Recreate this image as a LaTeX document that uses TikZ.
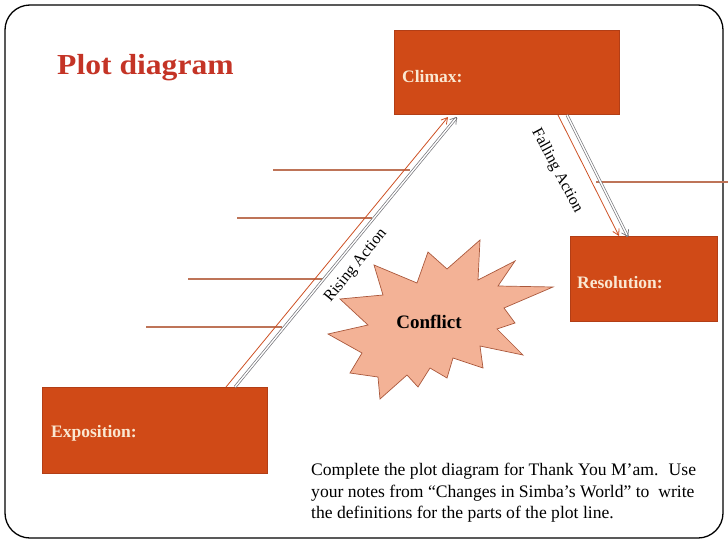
\documentclass[tikz,border=0pt]{standalone}
\usepackage{fontspec}
\setmainfont{Liberation Serif}
\usetikzlibrary{arrows.meta}
\definecolor{boxred}{RGB}{208,74,23}
\definecolor{boxedge}{RGB}{178,62,22}
\definecolor{cream}{RGB}{250,232,210}
\definecolor{titlered}{RGB}{196,52,38}
\definecolor{starfill}{RGB}{243,178,150}
\definecolor{staredge}{RGB}{170,88,60}
\definecolor{hline}{RGB}{190,116,88}
\definecolor{orangeline}{RGB}{205,80,35}
\definecolor{grayline}{RGB}{115,115,120}
\tikzset{
  plotbox/.style={draw=boxedge, fill=boxred, line width=0.6pt, anchor=north west, inner sep=0pt},
  boxlabel/.style={text=cream, font=\fontsize{17.5}{20}\selectfont\bfseries, anchor=west, inner sep=0pt},
  orangearrow/.style={draw=orangeline, line width=0.8pt, -{Straight Barb[length=6pt,width=7pt]}},
  grayarrow/.style={draw=grayline, double=white, double distance=1.4pt, line width=0.7pt, -{Straight Barb[length=6pt,width=8pt]}},
  tick/.style={draw=hline, line width=1.3pt},
  slant/.style={font=\fontsize{16}{18}\selectfont, inner sep=0pt}
}
\begin{document}
\begin{tikzpicture}[x=1pt, y=-1pt]
\useasboundingbox (0,0) rectangle (728,546);
% frame
\draw[line width=1.3pt, rounded corners=25pt] (5,5) rectangle (723,538);
% title
\node[anchor=base west, inner sep=0pt, text=titlered, font=\fontsize{29}{32}\selectfont\bfseries] (title) at (57,74) {\scalebox{1.09}[1]{Plot diagram}};
% boxes
\node[plotbox, minimum width=225pt, minimum height=84pt] (climax) at (394,30) {};
\node[plotbox, minimum width=147pt, minimum height=85pt] (resolution) at (570,236) {};
\node[plotbox, minimum width=225pt, minimum height=86pt] (exposition) at (42,387) {};
\node[boxlabel] (climaxlbl) at ([xshift=8pt,yshift=-4pt]climax.west) {Climax:};
\node[boxlabel] (resolutionlbl) at ([xshift=7pt,yshift=-4pt]resolution.west) {Resolution:};
\node[boxlabel] (expositionlbl) at ([xshift=9pt,yshift=-3pt]exposition.west) {Exposition:};
% connector end points
\coordinate (r1) at (226,387);
\coordinate (r2) at (448,117);
\coordinate (g1) at (235,387);
\coordinate (g2) at (457,117);
\coordinate (f1) at (558,115);
\coordinate (f2) at (619,236);
\coordinate (h1) at (567,115);
\coordinate (h2) at (628,237);
% horizontal ticks
\coordinate (t1a) at (273,170); \coordinate (t1b) at (410,170);
\coordinate (t2a) at (237,218); \coordinate (t2b) at (372,218);
\coordinate (t3a) at (188,279); \coordinate (t3b) at (323,279);
\coordinate (t4a) at (146,327); \coordinate (t4b) at (282,327);
\coordinate (t5a) at (596,182); \coordinate (t5b) at (728,182);
\draw[tick] (t1a) -- (t1b);
\draw[tick] (t2a) -- (t2b);
\draw[tick] (t3a) -- (t3b);
\draw[tick] (t4a) -- (t4b);
\draw[tick] (t5a) -- (t5b);
% rising & falling
\draw[grayarrow] (g1) -- (g2);
\draw[orangearrow] (r1) -- (r2);
\draw[grayarrow] (h1) -- (h2);
\draw[orangearrow] (f1) -- (f2);
\node[slant, rotate=51] (rising) at (356,266) {Rising Action};
\node[slant, rotate=-62] (falling) at (557,171) {Falling Action};
% conflict star
\draw[fill=starfill, draw=staredge, line width=0.7pt]
  (340,299) -- (383,295) -- (374,265) -- (417,283) -- (428,252) -- (447,269) -- (480,240)
  -- (478,280) -- (515,261) -- (498,286) -- (553,287) -- (504,308) -- (515,323) -- (497,329)
  -- (523,355) -- (480,346) -- (483,368) -- (453,358) -- (447,378) -- (430,368) -- (418,387)
  -- (407,375) -- (380,399) -- (378,377) -- (350,373) -- (362,353) -- (328,334) -- (368,325) -- cycle;
\node[font=\fontsize{19}{22}\selectfont\bfseries, inner sep=0pt] (conflict) at (429,322) {Conflict};
% instructions
\node[anchor=north west, align=left, inner sep=0pt, font=\fontsize{17.6}{21.5}\selectfont] (note) at (311,463)
  {Complete the plot diagram for Thank You M’am.~ Use\\
   your notes from “Changes in Simba’s World” to~ write\\
   the definitions for the parts of the plot line.};
\end{tikzpicture}
\end{document}
